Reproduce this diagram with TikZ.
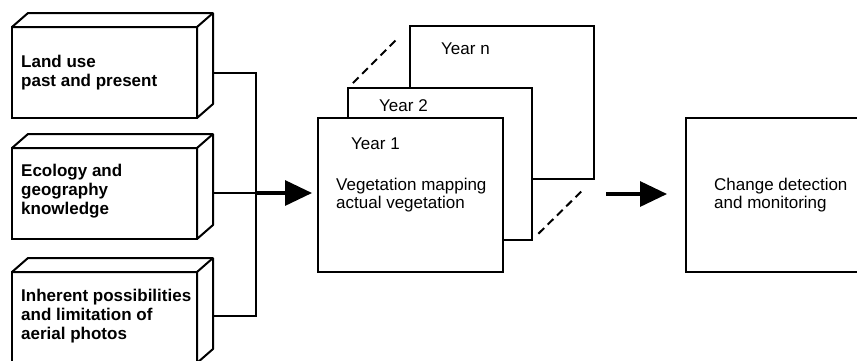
\documentclass[tikz,border=0pt]{standalone}
\usepackage{fontspec}
\setmainfont{Liberation Sans}
\usetikzlibrary{arrows.meta,calc}
\begin{document}
\begin{tikzpicture}[x=1pt,y=-1pt,
  face/.style={draw, line width=2pt, fill=white, minimum width=185pt, minimum height=91pt,
    inner sep=0pt, outer sep=0pt, anchor=north west},
  side/.style={draw, line width=2pt, line join=round, fill=white},
  boldlbl/.style={font=\fontsize{17}{19}\selectfont\bfseries, align=left, inner sep=0pt, anchor=west},
  lbl/.style={font=\fontsize{17}{18}\selectfont, align=left, inner sep=0pt},
  sheet/.style={draw, line width=2pt, fill=white, inner sep=0pt, outer sep=0pt, anchor=north west},
  wire/.style={line width=2pt},
  bigarrow/.style={line width=3.2pt, -{Triangle[length=27pt,width=25pt]}},
  dashline/.style={line width=2pt, dash pattern=on 8pt off 5pt},
]
\useasboundingbox (0,0) rectangle (857,360);
\clip (0,0) rectangle (857,360);

% left 3D boxes
\foreach \n/\y in {b1/27, b2/148, b3/272}{
  \node[face] (\n) at (12,\y) {};
  \path[side] (\n.north west) -- ++(16,-14) -- ++(185,0) -- ++(0,91) -- (\n.south east)
     -- (\n.north east) -- cycle;
  \draw[line width=2pt] (\n.north east) -- ++(16,-14);
}
\node[boldlbl] (t1) at ($(b1.west)+(9,0)$) {Land use\\past and present};
\node[boldlbl] (t2) at ($(b2.west)+(9,-2)$) {Ecology and\\geography\\knowledge};
\node[boldlbl] (t3) at ($(b3.west)+(9,-1)$) {Inherent possibilities\\and limitation of\\aerial photos};

% connectors
\coordinate (j1) at (256,73);
\coordinate (j2) at (256,193);
\coordinate (j3) at (256,316);
\coordinate (e1) at (213,73);
\coordinate (e2) at (213,193);
\coordinate (e3) at (213,316);
\draw[wire] (e1) -- (j1) -- (j3) -- (e3);
\draw[wire] (e2) -- (j2);

% stacked year sheets
\node[sheet, minimum width=184pt, minimum height=153pt] (yn) at (410,26) {};
\node[sheet, minimum width=184pt, minimum height=152pt] (y2) at (348,88) {};
\node[sheet, minimum width=185pt, minimum height=154pt] (y1) at (318,118) {};
\draw[dashline, shorten <=7pt, shorten >=16pt] (y2.north west) -- (yn.north west);
\draw[dashline, shorten <=9pt, shorten >=15pt] (y2.south east) -- (yn.south east);

\node[lbl, anchor=base west] (ln) at ($(yn.north west)+(31,28)$) {Year n};
\node[lbl, anchor=base west] (l2) at ($(y2.north west)+(31,23)$) {Year 2};
\node[lbl, anchor=base west] (l1) at ($(y1.north west)+(33,31)$) {Year 1};
\node[lbl, anchor=west] (veg) at (336,195) {Vegetation mapping\\actual vegetation};

% result box (cut at right edge)
\node[sheet, minimum width=200pt, minimum height=154pt] (cd) at (686,118) {};
\node[lbl, anchor=west] (cdt) at (714,195) {Change detection\\and monitoring};

% arrows
\draw[bigarrow, shorten >=6pt] (j2) -- (j2 -| y1.west);
\coordinate (a2) at (606,194);
\draw[bigarrow, shorten >=19pt] (a2) -- (a2 -| cd.west);
\end{tikzpicture}
\end{document}
